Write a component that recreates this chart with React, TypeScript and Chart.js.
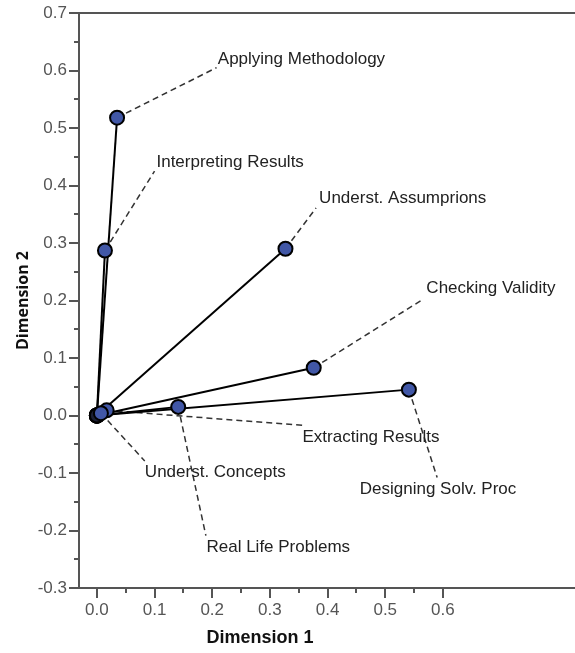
import React, { useEffect, useRef } from "react";
import { Chart, registerables } from "chart.js";

Chart.register(...registerables);

const categories = [
  "Applying Methodology",
  "Interpreting Results",
  "Underst. Assumprions",
  "Checking Validity",
  "Extracting Results",
  "Underst. Concepts",
  "Real Life Problems",
  "Designing Solv. Proc",
];
const dimension1 = [0.035, 0.014, 0.327, 0.376, 0.017, 0.007, 0.141, 0.541];
const dimension2 = [0.518, 0.287, 0.29, 0.083, 0.009, 0.004, 0.015, 0.045];

// leader-line end points (data units)
const leaderEndX = [0.2075, 0.1, 0.38, 0.567, 0.357, 0.083, 0.189, 0.59];
const leaderEndY = [0.605, 0.425, 0.361, 0.203, -0.017, -0.079, -0.209, -0.108];

// label anchor (left, middle) in data units
const labelX = [0.2097, 0.1033, 0.3853, 0.5713, 0.3565, 0.0832, 0.19, 0.4558];
const labelY = [0.62, 0.44, 0.3785, 0.222, -0.0386, -0.0994, -0.2287, -0.1284];

const xTickValues = [0, 0.1, 0.2, 0.3, 0.4, 0.5, 0.6];
const yTickValues = [-0.3, -0.2, -0.1, 0, 0.1, 0.2, 0.3, 0.4, 0.5, 0.6, 0.7];

const xTitle = "Dimension 1";
const yTitle = "Dimension 2";
const xTitleCenter = 0.283;

const FONT = "'Liberation Sans', Arial, sans-serif";

const decorPlugin = {
  id: "decor",
  afterDraw(chart: any) {
    const ctx = chart.ctx;
    const xs = chart.scales.x;
    const ys = chart.scales.y;
    const area = chart.chartArea;
    ctx.save();
    ctx.strokeStyle = "#555";
    ctx.lineWidth = 2;
    // top border
    ctx.beginPath();
    ctx.moveTo(area.left, area.top);
    ctx.lineTo(area.right, area.top);
    ctx.stroke();
    const drawX = (v: number, len: number) => {
      const px = Math.round(xs.getPixelForValue(v));
      ctx.beginPath();
      ctx.moveTo(px, area.bottom);
      ctx.lineTo(px, area.bottom + len);
      ctx.stroke();
    };
    const drawY = (v: number, len: number) => {
      const py = Math.round(ys.getPixelForValue(v));
      ctx.beginPath();
      ctx.moveTo(area.left, py);
      ctx.lineTo(area.left - len, py);
      ctx.stroke();
    };
    xTickValues.forEach((v, i) => {
      drawX(v, 10);
      if (i < xTickValues.length - 1) drawX((v + xTickValues[i + 1]) / 2, 5);
    });
    yTickValues.forEach((v, i) => {
      drawY(v, 10);
      if (i < yTickValues.length - 1) drawY((v + yTickValues[i + 1]) / 2, 5);
    });
    // x axis title
    ctx.fillStyle = "#111";
    ctx.font = "bold 18px " + FONT;
    ctx.textAlign = "center";
    ctx.textBaseline = "middle";
    ctx.fillText(xTitle, xs.getPixelForValue(xTitleCenter), 638);
    // point labels
    ctx.fillStyle = "#222";
    ctx.font = "17px " + FONT;
    ctx.textAlign = "left";
    ctx.textBaseline = "middle";
    categories.forEach((c, i) => {
      ctx.fillText(c, xs.getPixelForValue(labelX[i]), ys.getPixelForValue(labelY[i]));
    });
    ctx.restore();
  },
};

const zeroPad = (s: any) => {
  s.paddingTop = 0;
  s.paddingBottom = 0;
  s.paddingLeft = 0;
  s.paddingRight = 0;
};

export default function App() {
  const ref = useRef<HTMLCanvasElement | null>(null);
  useEffect(() => {
    if (!ref.current) return;
    const leaderSets = categories.map((c, i) => ({
      type: "line" as const,
      label: c + " leader",
      data: [
        { x: dimension1[i], y: dimension2[i] },
        { x: leaderEndX[i], y: leaderEndY[i] },
      ],
      borderColor: "#333",
      borderWidth: 1.5,
      borderDash: [6, 4],
      pointRadius: 0,
      showLine: true,
      fill: false,
      order: 3,
    }));
    const vectorSets = categories.map((c, i) => ({
      type: "line" as const,
      label: c,
      data: [
        { x: 0, y: 0 },
        { x: dimension1[i], y: dimension2[i] },
      ],
      borderColor: "#000",
      borderWidth: 2,
      pointRadius: 0,
      showLine: true,
      fill: false,
      order: 2,
    }));
    const originSet = {
      type: "scatter" as const,
      label: "origin",
      data: categories.map(() => ({ x: 0, y: 0 })),
      pointRadius: 7,
      pointBackgroundColor: "#1b1f33",
      pointBorderColor: "#000",
      pointBorderWidth: 2,
      order: 1,
    };
    const pointSet = {
      type: "scatter" as const,
      label: "points",
      data: categories.map((c, i) => ({ x: dimension1[i], y: dimension2[i] })),
      pointRadius: 7,
      pointBackgroundColor: "#4157a6",
      pointBorderColor: "#000",
      pointBorderWidth: 2,
      order: 0,
    };
    const chart = new Chart(ref.current, {
      type: "scatter",
      data: { datasets: [...leaderSets, ...vectorSets, originSet, pointSet] as any },
      options: {
        responsive: false,
        animation: false,
        layout: { autoPadding: false, padding: { top: 13, right: 0, left: 0, bottom: 0 } },
        plugins: { legend: { display: false }, tooltip: { enabled: false } },
        scales: {
          x: {
            type: "linear",
            min: -0.031,
            max: 0.829,
            afterBuildTicks: (s: any) => {
              s.ticks = xTickValues.map((v) => ({ value: v }));
            },
            afterFit: (s: any) => {
              s.height = 65;
              zeroPad(s);
            },
            grid: { display: false, drawTicks: false },
            border: { display: true, color: "#555", width: 2 },
            ticks: {
              padding: 12,
              color: "#555",
              font: { family: FONT, size: 17 },
              maxRotation: 0,
              autoSkip: false,
              callback: (v: any) => Number(v).toFixed(1),
            },
            title: { display: false, text: xTitle },
          },
          y: {
            type: "linear",
            min: -0.3,
            max: 0.7,
            afterBuildTicks: (s: any) => {
              s.ticks = yTickValues.map((v) => ({ value: v }));
            },
            afterFit: (s: any) => {
              s.width = 79;
              zeroPad(s);
            },
            grid: { display: false, drawTicks: false },
            border: { display: true, color: "#555", width: 2 },
            ticks: {
              padding: 12,
              color: "#555",
              font: { family: FONT, size: 17 },
              autoSkip: false,
              callback: (v: any) => Number(v).toFixed(1),
            },
            title: {
              display: true,
              text: yTitle,
              color: "#111",
              font: { family: "'Open Sans', sans-serif", size: 16, weight: "bold" },
              padding: { top: 14, bottom: 0 },
            },
          },
        },
      },
      plugins: [decorPlugin],
    });
    return () => chart.destroy();
  }, []);
  return (
    <div style={{ position: "absolute", left: 0, top: 0, width: 575, height: 653, background: "#fff" }}>
      <canvas ref={ref} width={575} height={653} style={{ display: "block" }} />
    </div>
  );
}
